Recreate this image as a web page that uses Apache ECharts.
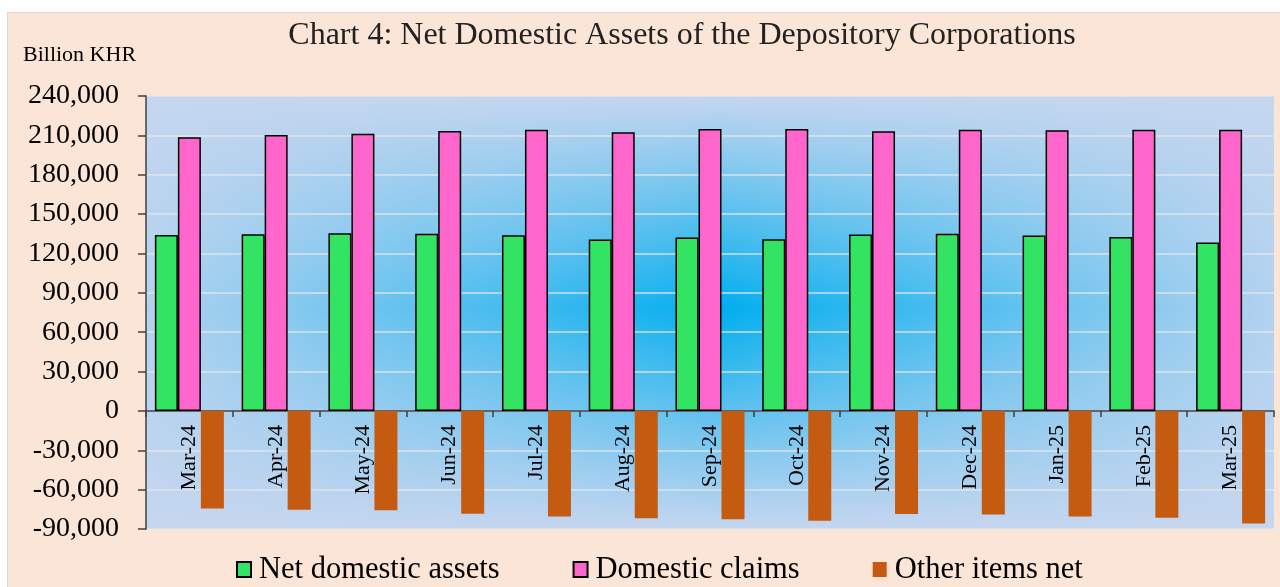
<!DOCTYPE html>
<html>
<head>
<meta charset="utf-8">
<script src="https://cdn.jsdelivr.net/npm/echarts@6/dist/echarts.min.js"></script>
<style>
  html, body { margin: 0; padding: 0; background: #ffffff; }
  #frame { position: absolute; left: 7px; top: 12px; width: 1273px; height: 575px;
           background: #FBE5D6; border-top: 1px solid #d9d9d9; border-left: 1px solid #d9d9d9; box-sizing: border-box; }
  #main { width: 1272px; height: 574px; }
</style>
</head>
<body>
<div id="frame"><div id="main"></div></div>
<script>
// months on the x axis
var months = ['Mar-24', 'Apr-24', 'May-24', 'Jun-24', 'Jul-24', 'Aug-24', 'Sep-24',
  'Oct-24', 'Nov-24', 'Dec-24', 'Jan-25', 'Feb-25', 'Mar-25'];

// Billion KHR
var netDomesticAssets = [134100, 134600, 135400, 135100, 133900, 130600, 132100,
  130800, 134400, 135100, 133600, 132600, 128300];
var domesticClaims = [208600, 210300, 211300, 213400, 214200, 212400, 214900,
  214900, 213100, 214200, 213900, 214200, 214200];
var otherItemsNet = [-74400, -75400, -75700, -78300, -80500, -81800, -82600,
  -83800, -78500, -79000, -80500, -81500, -85900];

// y axis ticks
var yMin = -90000;
var yMax = 240000;
var yStep = 30000;

var serif = 'Liberation Serif';
var chart = echarts.init(document.getElementById('main'));

var gridPos = { left: 138, top: 83, right: 6, bottom: 58, outerBoundsMode: 'none', containLabel: false };
var gridHeight = 574 - gridPos.top - gridPos.bottom;
// move the category axis up to the zero line
var zeroOffset = -gridHeight * (0 - yMin) / (yMax - yMin);

var option = {
  animation: false,
  textStyle: { fontFamily: serif },
  title: {
    text: 'Chart 4: Net Domestic Assets of the Depository Corporations',
    left: 669,
    top: 2,
    textAlign: 'center',
    textStyle: { fontFamily: serif, fontSize: 32, fontWeight: 'normal', color: '#222' }
  },
  graphic: [{
    type: 'text',
    left: 15,
    top: 31,
    style: { text: 'Billion KHR', fontFamily: serif, fontSize: 22, fill: '#000' }
  }],
  legend: {
    data: ['Net domestic assets', 'Domestic claims', 'Other items net'],
    left: 228,
    top: 541,
    padding: 0,
    itemGap: 73,
    itemWidth: 14,
    itemHeight: 15,
    icon: 'rect',
    textStyle: { fontFamily: serif, fontSize: 30.5, color: '#000', padding: [0, 0, 0, 3] }
  },
  grid: [
    Object.assign({
      show: true, borderWidth: 0,
      backgroundColor: {
        type: 'linear', x: 0, y: 0, x2: 0, y2: 1,
        colorStops: [
          { offset: 0, color: '#C6D6EF' },
          { offset: 0.49, color: '#00AEEF' },
          { offset: 1, color: '#C6D6EF' }
        ]
      }
    }, gridPos),
    Object.assign({
      show: true, borderWidth: 0,
      backgroundColor: {
        type: 'linear', x: 0, y: 0, x2: 1, y2: 0,
        colorStops: [
          { offset: 0, color: 'rgba(198,214,239,0.9)' },
          { offset: 0.51, color: 'rgba(198,214,239,0)' },
          { offset: 1, color: 'rgba(198,214,239,0.9)' }
        ]
      }
    }, gridPos)
  ],
  xAxis: [{
    type: 'category',
    data: months,
    offset: zeroOffset,
    axisLine: { onZero: false, lineStyle: { color: '#404040', width: 1.5 } },
    axisTick: { show: true, length: 6, lineStyle: { color: '#404040', width: 1.5 } },
    axisLabel: { interval: 0, rotate: 90, margin: 14, fontFamily: serif, fontSize: 22, color: '#000' },
    splitLine: { show: false }
  }, {
    type: 'category', gridIndex: 1, data: months, show: false
  }],
  yAxis: [{
    type: 'value',
    min: yMin,
    max: yMax,
    interval: yStep,
    axisLine: { show: true, lineStyle: { color: '#404040', width: 1.5 } },
    axisTick: { show: true, length: 8, lineStyle: { color: '#404040', width: 1.5 } },
    axisLabel: {
      margin: 27, fontFamily: serif, fontSize: 28, color: '#000',
      formatter: function (v) { return v.toLocaleString('en-US'); }
    },
    splitLine: { lineStyle: { color: 'rgba(232,232,232,0.85)', width: 1.5 } }
  }, {
    type: 'value', gridIndex: 1, show: false, min: yMin, max: yMax
  }],
  series: [{
    name: 'Net domestic assets',
    type: 'bar',
    barWidth: 23,
    barGap: '0%',
    itemStyle: { color: '#33E462', borderColor: '#000', borderWidth: 1.5 },
    data: netDomesticAssets
  }, {
    name: 'Domestic claims',
    type: 'bar',
    barWidth: 23,
    barGap: '0%',
    itemStyle: { color: '#FF66CC', borderColor: '#000', borderWidth: 1.5 },
    data: domesticClaims
  }, {
    name: 'Other items net',
    type: 'bar',
    barWidth: 23,
    barGap: '0%',
    itemStyle: { color: '#C55A11' },
    data: otherItemsNet
  }]
};

chart.setOption(option);
</script>
</body>
</html>
